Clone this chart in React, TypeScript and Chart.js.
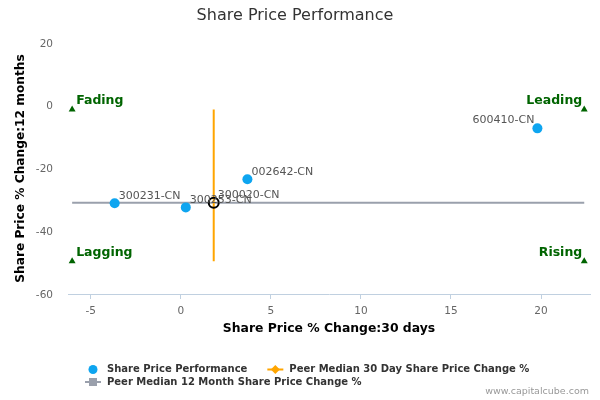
import { useEffect, useRef } from "react";
import { Chart, registerables } from "chart.js";

Chart.register(...registerables);

// company scatter data
const companies = ["300231-CN", "300253-CN", "300020-CN", "002642-CN", "600410-CN"];
const change30d = [-3.67, 0.28, 1.83, 3.7, 19.8];
const change12m = [-31.1, -32.4, -30.9, -23.4, -7.2];
const subjectCompany = "300020-CN";

// peer medians
const peerMedian30d = 1.83;
const peerMedian12m = -30.9;

// quadrant corner markers
const quadrantLabels = ["Fading", "Leading", "Lagging", "Rising"];
const quadrantX = [-6.03, 22.4, -6.03, 22.4];
const quadrantY = [-1.2, -1.2, -49.6, -49.6];

const xTicks = [-5, 0, 5, 10, 15, 20];
const yTicks = [20, 0, -20, -40, -60];

const FONT = "'DejaVu Sans', sans-serif";
const BLUE = "#0ea5f0";
const ORANGE = "#ffa500";
const GREY = "#9aa0ac";
const GREEN = "#006400";

const overlayPlugin = {
    id: "overlay",
    afterDatasetsDraw(chart: any) {
        const { ctx, chartArea } = chart;
        ctx.save();
        ctx.textBaseline = "middle";

        // company labels
        ctx.font = `11px ${FONT}`;
        ctx.fillStyle = "#555";
        chart.getDatasetMeta(0).data.forEach((pt: any, i: number) => {
            const label = companies[i];
            const w = ctx.measureText(label).width;
            if (pt.x + 4 + w > chartArea.right) {
                ctx.textAlign = "right";
                ctx.fillText(label, pt.x - 3, pt.y - 8);
            } else {
                ctx.textAlign = "left";
                ctx.fillText(label, pt.x + 4, pt.y - 7.5);
            }
        });

        // quadrant labels
        ctx.font = `bold 12.5px ${FONT}`;
        ctx.fillStyle = GREEN;
        const mid = (chartArea.left + chartArea.right) / 2;
        chart.getDatasetMeta(3).data.forEach((pt: any, i: number) => {
            if (pt.x < mid) {
                ctx.textAlign = "left";
                ctx.fillText(quadrantLabels[i], pt.x + 4, pt.y - 9);
            } else {
                ctx.textAlign = "right";
                ctx.fillText(quadrantLabels[i], pt.x - 2, pt.y - 9);
            }
        });
        ctx.restore();
    },
    afterDraw(chart: any) {
        const { ctx } = chart;
        ctx.save();
        ctx.textBaseline = "middle";
        ctx.textAlign = "left";
        ctx.font = `bold 10px ${FONT}`;

        const drawItem = (x: number, y: number, kind: string, text: string) => {
            if (kind === "circle") {
                ctx.fillStyle = BLUE;
                ctx.beginPath();
                ctx.arc(x + 8, y, 4.5, 0, Math.PI * 2);
                ctx.fill();
            } else {
                const color = kind === "diamond" ? ORANGE : GREY;
                ctx.strokeStyle = color;
                ctx.lineWidth = 2;
                ctx.beginPath();
                ctx.moveTo(x, y);
                ctx.lineTo(x + 16, y);
                ctx.stroke();
                ctx.fillStyle = color;
                ctx.beginPath();
                if (kind === "diamond") {
                    ctx.moveTo(x + 8, y - 4.5);
                    ctx.lineTo(x + 12.5, y);
                    ctx.lineTo(x + 8, y + 4.5);
                    ctx.lineTo(x + 3.5, y);
                    ctx.closePath();
                } else {
                    ctx.rect(x + 4, y - 4, 8, 8);
                }
                ctx.fill();
            }
            ctx.fillStyle = "#333";
            ctx.fillText(text, x + 22, y);
            return x + 22 + ctx.measureText(text).width;
        };

        const end1 = drawItem(85, 369.5, "circle", "Share Price Performance");
        drawItem(end1 + 20, 369.5, "diamond", "Peer Median 30 Day Share Price Change %");
        drawItem(85, 382, "square", "Peer Median 12 Month Share Price Change %");

        // credit
        ctx.font = `9.5px ${FONT}`;
        ctx.fillStyle = "#999";
        ctx.textAlign = "right";
        ctx.fillText("www.capitalcube.com", 589, 391.5);
        ctx.restore();
    },
};

export default function App() {
    const canvasRef = useRef<HTMLCanvasElement>(null);

    useEffect(() => {
        const canvas = canvasRef.current;
        if (!canvas) return;

        const chart = new Chart(canvas, {
            type: "scatter",
            data: {
                datasets: [
                    {
                        label: "Share Price Performance",
                        data: companies.map((_, i) => ({ x: change30d[i], y: change12m[i] })),
                        pointRadius: 5,
                        pointBackgroundColor: companies.map((c) => (c === subjectCompany ? "rgba(0,0,0,0)" : BLUE)),
                        pointBorderColor: companies.map((c) => (c === subjectCompany ? "#000" : BLUE)),
                        pointBorderWidth: companies.map((c) => (c === subjectCompany ? 2 : 0)),
                    },
                    {
                        label: "Peer Median 30 Day Share Price Change %",
                        data: [
                            { x: peerMedian30d, y: quadrantY[0] },
                            { x: peerMedian30d, y: quadrantY[2] },
                        ],
                        showLine: true,
                        borderColor: ORANGE,
                        borderWidth: 2,
                        pointRadius: 0,
                    },
                    {
                        label: "Peer Median 12 Month Share Price Change %",
                        data: [
                            { x: quadrantX[0], y: peerMedian12m },
                            { x: quadrantX[1], y: peerMedian12m },
                        ],
                        showLine: true,
                        borderColor: GREY,
                        borderWidth: 2,
                        pointRadius: 0,
                    },
                    {
                        label: "Quadrants",
                        data: quadrantLabels.map((_, i) => ({ x: quadrantX[i], y: quadrantY[i] })),
                        pointStyle: "triangle",
                        pointRadius: 4,
                        pointBackgroundColor: GREEN,
                        pointBorderColor: GREEN,
                        pointBorderWidth: 0,
                    },
                ],
            },
            options: {
                responsive: false,
                animation: false,
                layout: { padding: { left: 0, right: 10, top: 0, bottom: 56 } },
                scales: {
                    x: {
                        type: "linear",
                        min: -6.26,
                        max: 22.72,
                        afterBuildTicks: (s: any) => {
                            s.ticks = xTicks.map((v) => ({ value: v }));
                        },
                        afterFit: (s: any) => {
                            s.height = 50;
                        },
                        grid: { display: true, drawOnChartArea: false, drawTicks: true, tickLength: 5, color: "#C0D0E0" },
                        border: { display: true, color: "#C0D0E0", width: 1 },
                        ticks: { color: "#666", font: { family: FONT, size: 10.5 }, padding: 6 },
                        title: {
                            display: true,
                            text: "Share Price % Change:30 days",
                            color: "#000",
                            font: { family: FONT, size: 12.4, weight: "bold" },
                            padding: { top: 0, bottom: 8 },
                        },
                    },
                    y: {
                        type: "linear",
                        min: -60,
                        max: 20,
                        afterBuildTicks: (s: any) => {
                            s.ticks = yTicks.map((v) => ({ value: v }));
                        },
                        afterFit: (s: any) => {
                            s.width = 68;
                        },
                        grid: { display: false, drawTicks: false },
                        border: { display: false },
                        ticks: { color: "#666", font: { family: FONT, size: 10.5 }, padding: 15, labelOffset: 1 },
                        title: {
                            display: true,
                            text: "Share Price % Change:12 months",
                            color: "#000",
                            font: { family: FONT, size: 12.2, weight: "bold" },
                            padding: { top: 14, bottom: 0 },
                        },
                    },
                },
                plugins: {
                    legend: { display: false },
                    tooltip: { enabled: false },
                    title: {
                        display: true,
                        text: "Share Price Performance",
                        color: "#333",
                        font: { family: FONT, size: 16, weight: "normal" },
                        padding: { top: 6.5, bottom: 17.3 },
                    },
                },
            },
            plugins: [overlayPlugin],
        });

        return () => {
            chart.destroy();
        };
    }, []);

    return (
        <div style={{ position: "absolute", left: 0, top: 0, width: 600, height: 400, background: "#fff" }}>
            <canvas ref={canvasRef} width={600} height={400} />
        </div>
    );
}
